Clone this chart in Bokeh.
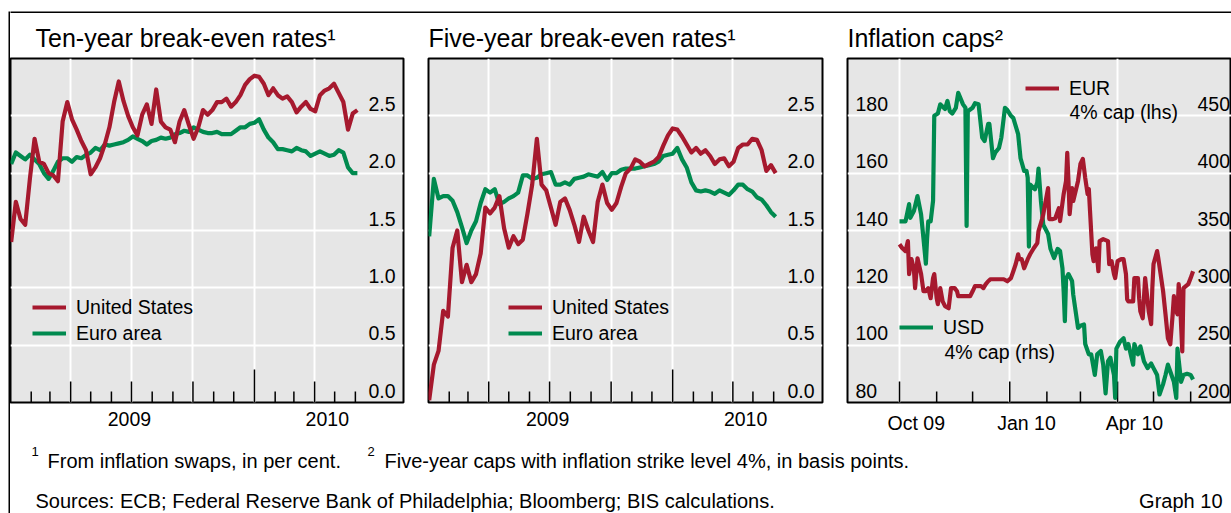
import pandas as pd
from bokeh.plotting import figure
from bokeh.models import (Range1d, FixedTicker, DatetimeTickFormatter, ColumnDataSource,
                          LabelSet, Label, Legend, LegendItem)
from bokeh.layouts import row, column
from bokeh.core.properties import value
from bokeh.embed import file_html
from bokeh.resources import INLINE
from bokeh.core.validation import silence
from bokeh.core.validation.warnings import MISSING_RENDERERS

silence(MISSING_RENDERERS, True)

# ------------------------------------------------------------------ data
week_start = "2009-01-02"          # weekly observations for the break-even panels
n_weeks = 75

us_10y = [1.40, 1.75, 1.60, 1.55, 1.95, 2.30, 2.10, 2.08, 2.00, 1.98,
          1.93, 2.45, 2.62, 2.47, 2.38, 2.28, 2.20, 1.99, 2.05, 2.13,
          2.25, 2.40, 2.62, 2.80, 2.63, 2.50, 2.40, 2.33, 2.51, 2.60,
          2.43, 2.73, 2.45, 2.40, 2.38, 2.27, 2.45, 2.55, 2.42, 2.30,
          2.40, 2.55, 2.51, 2.55, 2.62, 2.62, 2.65, 2.58, 2.62, 2.68,
          2.77, 2.82, 2.85, 2.84, 2.78, 2.68, 2.74, 2.68, 2.65, 2.67,
          2.62, 2.53, 2.58, 2.62, 2.56, 2.54, 2.68, 2.72, 2.74, 2.78,
          2.70, 2.62, 2.38, 2.52, 2.55]
ea_10y = [2.08, 2.18, 2.15, 2.12, 2.16, 2.12, 2.08, 2.00, 1.95, 2.02,
          2.10, 2.13, 2.13, 2.10, 2.14, 2.13, 2.16, 2.18, 2.22, 2.20,
          2.25, 2.24, 2.25, 2.26, 2.27, 2.29, 2.32, 2.30, 2.28, 2.25,
          2.28, 2.29, 2.31, 2.30, 2.31, 2.34, 2.35, 2.37, 2.36, 2.40,
          2.38, 2.36, 2.35, 2.35, 2.36, 2.34, 2.34, 2.34, 2.37, 2.40,
          2.40, 2.43, 2.44, 2.47, 2.38, 2.31, 2.27, 2.21, 2.21, 2.20,
          2.19, 2.22, 2.20, 2.19, 2.15, 2.17, 2.19, 2.17, 2.15, 2.16,
          2.20, 2.18, 2.05, 2.00, 2.00]
us_5y = [0.02, 0.33, 0.45, 0.80, 0.75, 1.35, 1.50, 1.05, 1.20, 1.05,
         1.12, 1.30, 1.70, 1.65, 1.70, 1.80, 1.52, 1.35, 1.45, 1.38,
         1.42, 1.65, 1.90, 2.30, 1.90, 1.85, 1.70, 1.55, 1.75, 1.78,
         1.68, 1.55, 1.40, 1.62, 1.50, 1.40, 1.75, 1.90, 1.74, 1.68,
         1.74, 1.88, 2.00, 2.04, 2.12, 2.10, 2.06, 2.08, 2.10, 2.14,
         2.24, 2.33, 2.39, 2.38, 2.32, 2.25, 2.18, 2.22, 2.17, 2.20,
         2.15, 2.08, 2.12, 2.13, 2.06, 2.10, 2.22, 2.25, 2.25, 2.30,
         2.29, 2.20, 2.02, 2.07, 2.00]
ea_5y = [1.45, 1.95, 1.78, 1.80, 1.80, 1.76, 1.66, 1.53, 1.39, 1.50,
         1.58, 1.74, 1.86, 1.83, 1.86, 1.73, 1.75, 1.78, 1.80, 1.83,
         1.98, 1.98, 1.95, 1.96, 1.99, 2.00, 2.01, 1.90, 1.90, 1.92,
         1.90, 1.95, 1.96, 1.97, 1.99, 1.98, 1.97, 2.01, 1.94, 2.00,
         2.00, 2.03, 2.04, 2.04, 2.04, 2.05, 2.06, 2.07, 2.08, 2.10,
         2.15, 2.16, 2.17, 2.22, 2.12, 2.05, 1.92, 1.85, 1.84, 1.85,
         1.84, 1.82, 1.85, 1.83, 1.81, 1.85, 1.90, 1.90, 1.86, 1.84,
         1.79, 1.77, 1.72, 1.66, 1.62]

usd_cap_dates = [
    "2009-10-01", "2009-10-06", "2009-10-09", "2009-10-10", "2009-10-13", "2009-10-16", "2009-10-19", "2009-10-21", "2009-10-23", "2009-10-24",
    "2009-10-25", "2009-10-27", "2009-10-29", "2009-10-30", "2009-11-02", "2009-11-04", "2009-11-08", "2009-11-10", "2009-11-12", "2009-11-14",
    "2009-11-17", "2009-11-19", "2009-11-23", "2009-11-25", "2009-11-26", "2009-11-27", "2009-12-01", "2009-12-03", "2009-12-06", "2009-12-09",
    "2009-12-11", "2009-12-14", "2009-12-15", "2009-12-18", "2009-12-20", "2009-12-23", "2009-12-25", "2009-12-28", "2009-12-30", "2010-01-02",
    "2010-01-04", "2010-01-08", "2010-01-10", "2010-01-13", "2010-01-15", "2010-01-16", "2010-01-17", "2010-01-18", "2010-01-22", "2010-01-24",
    "2010-01-25", "2010-01-27", "2010-01-29", "2010-02-02", "2010-02-04", "2010-02-07", "2010-02-10", "2010-02-12", "2010-02-14", "2010-02-15",
    "2010-02-16", "2010-02-17", "2010-02-19", "2010-02-22", "2010-02-23", "2010-02-27", "2010-03-01", "2010-03-04", "2010-03-05", "2010-03-08",
    "2010-03-10", "2010-03-13", "2010-03-15", "2010-03-18", "2010-03-20", "2010-03-22", "2010-03-24", "2010-03-26", "2010-03-29", "2010-03-30",
    "2010-03-31", "2010-04-03", "2010-04-06", "2010-04-08", "2010-04-10", "2010-04-14", "2010-04-15", "2010-04-18", "2010-04-20", "2010-04-23",
    "2010-04-26", "2010-04-29", "2010-05-01", "2010-05-04", "2010-05-06", "2010-05-09", "2010-05-11", "2010-05-13", "2010-05-15", "2010-05-18",
    "2010-05-20", "2010-05-21", "2010-05-24", "2010-05-26", "2010-05-29", "2010-06-01", "2010-06-03"]
usd_cap = [358, 358, 373, 361, 367, 380, 364, 343, 321, 343,
           358, 358, 376, 450, 452, 460, 456, 463, 454, 452,
           457, 470, 460, 457, 354, 454, 457, 461, 460, 431,
           428, 443, 443, 413, 418, 422, 431, 457, 455, 450,
           448, 434, 413, 402, 402, 396, 336, 390, 386, 392,
           404, 376, 355, 347, 334, 326, 334, 332, 317, 297,
           271, 308, 312, 306, 294, 265, 267, 268, 251, 242,
           242, 224, 242, 245, 233, 208, 236, 239, 224, 204,
           247, 253, 256, 247, 251, 233, 251, 242, 249, 236,
           230, 234, 230, 224, 207, 216, 224, 233, 227, 218,
           204, 247, 218, 224, 225, 224, 220]

eur_cap_dates = [
    "2009-10-01", "2009-10-03", "2009-10-06", "2009-10-08", "2009-10-09", "2009-10-11", "2009-10-13", "2009-10-14", "2009-10-16", "2009-10-19",
    "2009-10-21", "2009-10-23", "2009-10-25", "2009-10-27", "2009-10-29", "2009-10-30", "2009-11-01", "2009-11-02", "2009-11-04", "2009-11-06",
    "2009-11-08", "2009-11-11", "2009-11-13", "2009-11-16", "2009-11-18", "2009-11-19", "2009-11-24", "2009-11-29", "2009-12-01", "2009-12-03",
    "2009-12-08", "2009-12-10", "2009-12-12", "2009-12-14", "2009-12-16", "2009-12-22", "2009-12-27", "2009-12-30", "2010-01-02", "2010-01-04",
    "2010-01-06", "2010-01-08", "2010-01-09", "2010-01-11", "2010-01-13", "2010-01-16", "2010-01-18", "2010-01-21", "2010-01-24", "2010-01-25",
    "2010-01-28", "2010-01-29", "2010-02-02", "2010-02-03", "2010-02-06", "2010-02-08", "2010-02-11", "2010-02-12", "2010-02-15", "2010-02-17",
    "2010-02-18", "2010-02-19", "2010-02-20", "2010-02-21", "2010-02-22", "2010-02-23", "2010-02-25", "2010-02-27", "2010-03-01", "2010-03-03",
    "2010-03-05", "2010-03-07", "2010-03-08", "2010-03-09", "2010-03-11", "2010-03-12", "2010-03-14", "2010-03-15", "2010-03-16", "2010-03-17",
    "2010-03-20", "2010-03-24", "2010-03-25", "2010-03-27", "2010-03-29", "2010-03-30", "2010-04-01", "2010-04-04", "2010-04-06", "2010-04-08",
    "2010-04-09", "2010-04-10", "2010-04-14", "2010-04-15", "2010-04-18", "2010-04-19", "2010-04-20", "2010-04-22", "2010-04-23", "2010-04-24",
    "2010-04-27", "2010-04-29", "2010-04-30", "2010-05-01", "2010-05-04", "2010-05-05", "2010-05-09", "2010-05-11", "2010-05-13", "2010-05-15",
    "2010-05-17", "2010-05-18", "2010-05-19", "2010-05-21", "2010-05-22", "2010-05-23", "2010-05-25", "2010-05-26", "2010-05-28", "2010-05-30",
    "2010-06-01", "2010-06-03"]
eur_cap = [135.2, 134.0, 132.8, 136.3, 124.8, 130.0, 126.5, 119.9, 130.3, 124.8,
           118.8, 118.8, 119.9, 116.4, 123.4, 124.8, 116.4, 114.3, 119.9, 115.3,
           113.6, 112.9, 119.9, 119.9, 118.8, 117.1, 117.1, 117.1, 118.8, 120.6,
           120.6, 119.9, 121.3, 122.3, 123.0, 123.0, 123.0, 122.3, 123.4, 125.8,
           128.3, 131.7, 130.0, 130.0, 126.8, 130.0, 131.7, 133.8, 135.6, 139.8,
           144.0, 145.7, 154.8, 144.0, 144.0, 144.3, 147.8, 143.3, 152.7, 157.3,
           167.1, 157.3, 145.7, 150.3, 154.8, 150.3, 153.8, 157.3, 163.2, 165.0,
           158.3, 152.7, 154.5, 146.8, 131.7, 129.3, 133.8, 130.3, 125.8, 136.3,
           137.0, 136.3, 128.3, 129.3, 124.8, 123.4, 129.3, 130.0, 130.0, 124.8,
           116.0, 115.3, 115.3, 123.4, 123.4, 116.4, 111.8, 109.4, 116.4, 123.4,
           111.8, 107.3, 119.9, 128.3, 132.8, 130.3, 118.8, 110.8, 102.4, 100.3,
           110.8, 117.1, 112.9, 110.8, 121.3, 116.4, 97.8, 119.9, 120.6, 121.3,
           123.4, 125.8]

pct_ticks = [0.0, 0.5, 1.0, 1.5, 2.0, 2.5]
cap_lhs_ticks = [80, 100, 120, 140, 160, 180]
cap_rhs_ticks = [200, 250, 300, 350, 400, 450]
year_label_dates = ["2009-06-28", "2010-04-20"]
cap_label_dates = ["2009-10-15", "2010-01-15", "2010-04-15"]

# ------------------------------------------------------------------ style
FONT = "Liberation Sans"
RED = "#a6192e"
GREEN = "#008a4f"
BG = "#e6e6e6"
FRAME_H = 344
LW = 4.2
TXT = "19.5px"

weeks = pd.date_range(week_start, periods=n_weeks, freq="7D")


def ms(d):
    return pd.Timestamp(d).timestamp() * 1000.0


def fmt_all(f):
    keys = ["microseconds", "milliseconds", "seconds", "minsec", "minutes",
            "hourmin", "hours", "days", "months", "years"]
    return DatetimeTickFormatter(**{k: f for k in keys})


def make_panel(width, x0, x1, y0, y1, title, title_offset, bl, br,
               label_dates, label_fmt, grid_dates, grid_vals, tick_dates, tick_len):
    p = figure(width=width, height=425, x_axis_type="datetime", y_axis_location=None,
               x_range=Range1d(pd.Timestamp(x0), pd.Timestamp(x1)), y_range=Range1d(y0, y1),
               output_backend="svg", toolbar_location=None, title=title,
               min_border_left=bl, min_border_right=br, min_border_top=45, min_border_bottom=36)
    p.background_fill_color = BG
    p.border_fill_color = "white"
    p.outline_line_color = "black"
    p.outline_line_width = 2
    t = p.title
    t.text_font = FONT
    t.text_font_size = "25px"
    t.text_font_style = "normal"
    t.text_color = "black"
    t.align = "left"
    t.offset = title_offset
    t.standoff = 13
    ax = p.xaxis[0]
    ax.ticker = FixedTicker(ticks=[ms(d) for d in label_dates], minor_ticks=[])
    ax.formatter = fmt_all(label_fmt)
    ax.major_tick_line_color = None
    ax.minor_tick_line_color = None
    ax.axis_line_color = None
    ax.major_tick_in = 0
    ax.major_tick_out = 0
    ax.major_label_standoff = 9
    ax.major_label_text_font = FONT
    ax.major_label_text_font_size = TXT
    ax.major_label_text_color = "black"
    p.xgrid.ticker = FixedTicker(ticks=[ms(d) for d in grid_dates], minor_ticks=[])
    p.ygrid.ticker = FixedTicker(ticks=grid_vals, minor_ticks=[])
    for g in (p.xgrid, p.ygrid):
        g.grid_line_color = "white"
        g.grid_line_width = 2
    # tick marks drawn upward from the bottom frame edge (pixel range)
    p.extra_y_ranges = {"px": Range1d(0, FRAME_H)}
    tsrc = ColumnDataSource(dict(x=list(tick_dates), top=[tick_len(d) for d in tick_dates]))
    p.segment(x0="x", y0=0, x1="x", y1="top", source=tsrc, y_range_name="px",
              line_color="black", line_width=1.5)
    return p


def ylabels(p, ticks, x, align, fmt, range_name="default"):
    src = ColumnDataSource(dict(y=ticks, text=[fmt.format(v) for v in ticks]))
    ls = LabelSet(x=x, y="y", text="text", x_units="screen", source=src,
                  y_range_name=range_name, text_align=align, text_baseline="alphabetic",
                  y_offset=5, text_font=value(FONT), text_font_size=TXT, text_color="black")
    p.add_layout(ls)


def legend(p, items, loc):
    lg = Legend(items=items, location=loc, orientation="vertical",
                background_fill_alpha=0, border_line_color=None, padding=0, margin=0,
                spacing=0, glyph_width=34, glyph_height=20, label_height=26,
                label_standoff=10, label_text_font=FONT, label_text_font_size=TXT,
                label_text_color="black")
    p.add_layout(lg)


month_ticks = pd.date_range("2009-02-01", "2010-06-01", freq="MS")
cap_month_ticks = pd.date_range("2009-10-01", "2010-06-01", freq="MS")
quarter_grid = pd.date_range("2009-04-01", "2010-04-01", freq="QS")
cap_quarter_grid = pd.date_range("2009-10-01", "2010-04-01", freq="QS")


def be_len(d):
    if d.month == 1:
        return 33
    return 21 if d.month in (4, 7, 10) else 11


def cap_len(d):
    return 21 if d.month in (1, 4, 7, 10) else 11


# ------------------------------------------------------------------ panel 1
p1 = make_panel(408, "2009-01-01", "2010-08-12", 0, 3, "Ten-year break-even rates\u00b9", 25, 0, 15,
                year_label_dates, "%Y", quarter_grid, [0.5, 1.0, 1.5, 2.0, 2.5], month_ticks, be_len)
g1 = p1.line(weeks, ea_10y, line_color=GREEN, line_width=LW, line_join="round")
r1 = p1.line(weeks, us_10y, line_color=RED, line_width=LW, line_join="round")
ylabels(p1, pct_ticks, 393 - 8, "right", "{:.1f}")
legend(p1, [LegendItem(label="United States", renderers=[r1]),
            LegendItem(label="Euro area", renderers=[g1])], (22, 56))

# ------------------------------------------------------------------ panel 2
p2 = make_panel(419, "2009-01-01", "2010-08-13", 0, 3, "Five-year break-even rates\u00b9", 0, 10, 15,
                year_label_dates, "%Y", quarter_grid, [0.5, 1.0, 1.5, 2.0, 2.5], month_ticks, be_len)
g2 = p2.line(weeks, ea_5y, line_color=GREEN, line_width=LW, line_join="round")
r2 = p2.line(weeks, us_5y, line_color=RED, line_width=LW, line_join="round")
ylabels(p2, pct_ticks, 394 - 8, "right", "{:.1f}")
legend(p2, [LegendItem(label="United States", renderers=[r2]),
            LegendItem(label="Euro area", renderers=[g2])], (80, 56))

# ------------------------------------------------------------------ panel 3
p3 = make_panel(394, "2009-08-18 14:00", "2010-07-05 02:00", 80, 200, "Inflation caps\u00b2", 0, 10, 0,
                cap_label_dates, "%b %y", cap_quarter_grid, [100, 120, 140, 160, 180],
                cap_month_ticks, cap_len)
p3.extra_y_ranges["rhs"] = Range1d(200, 500)
g3 = p3.line(pd.to_datetime(usd_cap_dates), usd_cap, y_range_name="rhs",
             line_color=GREEN, line_width=LW, line_join="round")
r3 = p3.line(pd.to_datetime(eur_cap_dates), eur_cap,
             line_color=RED, line_width=LW, line_join="round")
ylabels(p3, cap_lhs_ticks, 8, "left", "{:d}")
ylabels(p3, cap_rhs_ticks, 350, "left", "{:d}", "rhs")
legend(p3, [LegendItem(label="EUR", renderers=[r3])], (178, 301))
legend(p3, [LegendItem(label="USD", renderers=[g3])], (52, 62))
p3.add_layout(Label(x=222, y=291, x_units="screen", y_units="screen", text="4% cap (lhs)",
                    text_baseline="middle", text_font=FONT, text_font_size=TXT,
                    text_color="black"))
p3.add_layout(Label(x=97, y=51, x_units="screen", y_units="screen", text="4% cap (rhs)",
                    text_baseline="middle", text_font=FONT, text_font_size=TXT,
                    text_color="black"))


# ------------------------------------------------------------------ plain blocks
def block(w, h, color, left_pad=0, top_pad=0):
    f = figure(width=w, height=h, x_axis_type=None, y_axis_type=None, title=None,
               x_range=Range1d(0, 1), y_range=Range1d(0, 1), output_backend="svg",
               toolbar_location=None, min_border_left=left_pad, min_border_top=top_pad,
               min_border_right=0, min_border_bottom=0, outline_line_color=None)
    f.background_fill_color = color
    f.border_fill_color = "white"
    return f


# ------------------------------------------------------------------ footer
foot = block(1221, 75, "white")


def ftext(x, y, s, align="left", size="20px"):
    foot.add_layout(Label(x=x, y=y, x_units="screen", y_units="screen", text=s,
                          text_align=align, text_baseline="middle", text_font=FONT,
                          text_font_size=size, text_color="black"))


ftext(21, 62, "1", size="13px")
ftext(37, 53, "From inflation swaps, in per cent.")
ftext(357, 62, "2", size="13px")
ftext(374, 53, "Five-year caps with inflation strike level 4%, in basis points.")
ftext(25, 13, "Sources: ECB; Federal Reserve Bank of Philadelphia; Bloomberg; BIS calculations.")
ftext(1212, 13, "Graph 10", "right")

# ------------------------------------------------------------------ layout
left_col = block(10, 513, "black", left_pad=8, top_pad=11)
right_col = column(block(1221, 13, "black", top_pad=11), row(p1, p2, p3), foot)
page = row(left_col, right_col)

open("out.html", "w").write(file_html(page, INLINE))
